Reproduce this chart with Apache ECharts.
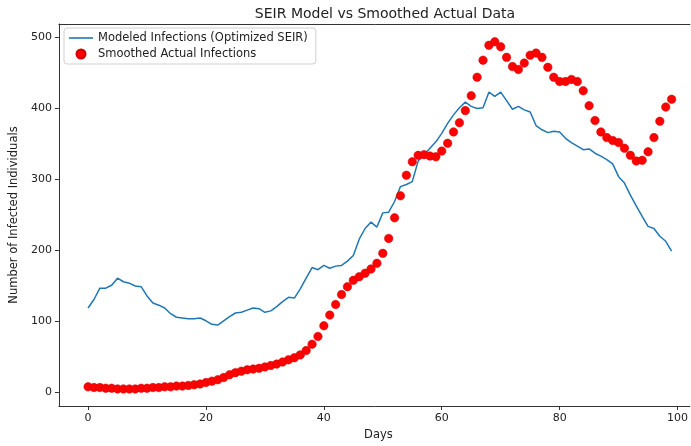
<!DOCTYPE html>
<html>
<head>
<meta charset="utf-8">
<script src="https://cdn.jsdelivr.net/npm/echarts@6/dist/echarts.min.js"></script>
<style>html,body{margin:0;padding:0;background:#fff}#c{width:691px;height:446px}</style>
</head>
<body>
<div id="c"></div>
<script>
const modeled = [118,130,146,146,150,160,155,153,149,148,
135,125,122,118,110,105,104,103,103,104,
100,95,94,100,106,111,112,115,118,117,
112,114,120,127,133,132,145,160,175,172,
178,174,177,178,184,192,215,230,239,232,
252,253,268,289,292,296,325,334,343,352,
364,378,390,400,408,402,399,400,422,416,
422,410,398,402,397,394,375,369,365,367,
366,357,351,346,341,342,336,332,327,321,
303,294,277,262,247,233,230,219,212,198];
const actual = [7,6,6,5,5,4,4,4,4,5,
5,6,6,7,7,8,8,9,10,11,
13,15,17,20,24,27,29,31,32,33,
35,37,39,42,45,48,52,58,67,78,
93,108,123,137,148,157,162,167,173,181,
195,216,245,276,305,324,333,334,332,331,
339,350,366,379,396,417,443,467,488,493,
486,471,458,454,463,474,477,471,457,443,
437,437,440,437,424,403,382,366,358,354,
351,343,333,325,326,338,358,381,401,412];
const xTicks = [0,20,40,60,80,100];
const yTicks = [0,100,200,300,400,500];
const titleText = 'SEIR Model vs Smoothed Actual Data';
const modeledName = 'Modeled Infections (Optimized SEIR)';
const actualName = 'Smoothed Actual Infections';

const modeledData = modeled.map((v,i)=>[i,v]);
const actualData = actual.map((v,i)=>[i,v]);
const font = 'DejaVu Sans';
const chart = echarts.init(document.getElementById('c'));
const axisLine = {show:true, onZero:false, lineStyle:{color:'#333', width:1}};
const xMin = -4.95, xMax = 102.1;
chart.setOption({
  animation:false,
  backgroundColor:'#fff',
  title:{text:titleText, left:380, textAlign:'center', top:2,
    textStyle:{fontFamily:font, fontSize:14, fontWeight:'normal', color:'#222'}},
  grid:{left:58, top:24, right:0, bottom:38, containLabel:false},
  legend:{left:64, top:28, orient:'vertical', itemWidth:24, itemHeight:9, itemGap:4,
    padding:[4,8,4,5], borderColor:'#d0d0d0', borderWidth:1, borderRadius:3,
    backgroundColor:'rgba(255,255,255,0.8)',
    textStyle:{fontFamily:font, fontSize:11.5, color:'#222'},
    data:[{name:modeledName, icon:'path://M0,0 L24,0 L24,1.6 L0,1.6 Z'},{name:actualName, icon:'circle'}]},
  xAxis:[{type:'value', min:xMin, max:xMax, name:'Days', nameLocation:'middle', nameGap:23,
    nameTextStyle:{fontFamily:font, fontSize:11.5, color:'#222', padding:[0,0,0,8]},
    axisLine:axisLine, splitLine:{show:false},
    axisTick:{show:true, length:4, lineStyle:{color:'#333'}, customValues:xTicks},
    axisLabel:{fontFamily:font, fontSize:11, color:'#222', margin:7, customValues:xTicks}},
    {type:'value', position:'top', min:xMin, max:xMax, axisLine:axisLine,
    axisTick:{show:false}, axisLabel:{show:false}, splitLine:{show:false}}],
  yAxis:{type:'value', min:-20, max:518, name:'Number of Infected Individuals',
    nameLocation:'middle', nameGap:38,
    nameTextStyle:{fontFamily:font, fontSize:11.5, color:'#222'},
    axisLine:axisLine, splitLine:{show:false},
    axisTick:{show:true, length:4, lineStyle:{color:'#333'}, customValues:yTicks},
    axisLabel:{fontFamily:font, fontSize:11, color:'#222', margin:7, customValues:yTicks}},
  series:[
    {name:modeledName, type:'line', data:modeledData, symbol:'none',
      lineStyle:{color:'#1f77b4', width:1.5}, itemStyle:{color:'#1f77b4'}, z:2},
    {name:actualName, type:'scatter', data:actualData, symbol:'circle', symbolSize:8.5,
      itemStyle:{color:'#ff0000', borderColor:'#cc0000', borderWidth:0.5, opacity:1}, z:3}
  ]
});
</script>
</body>
</html>
